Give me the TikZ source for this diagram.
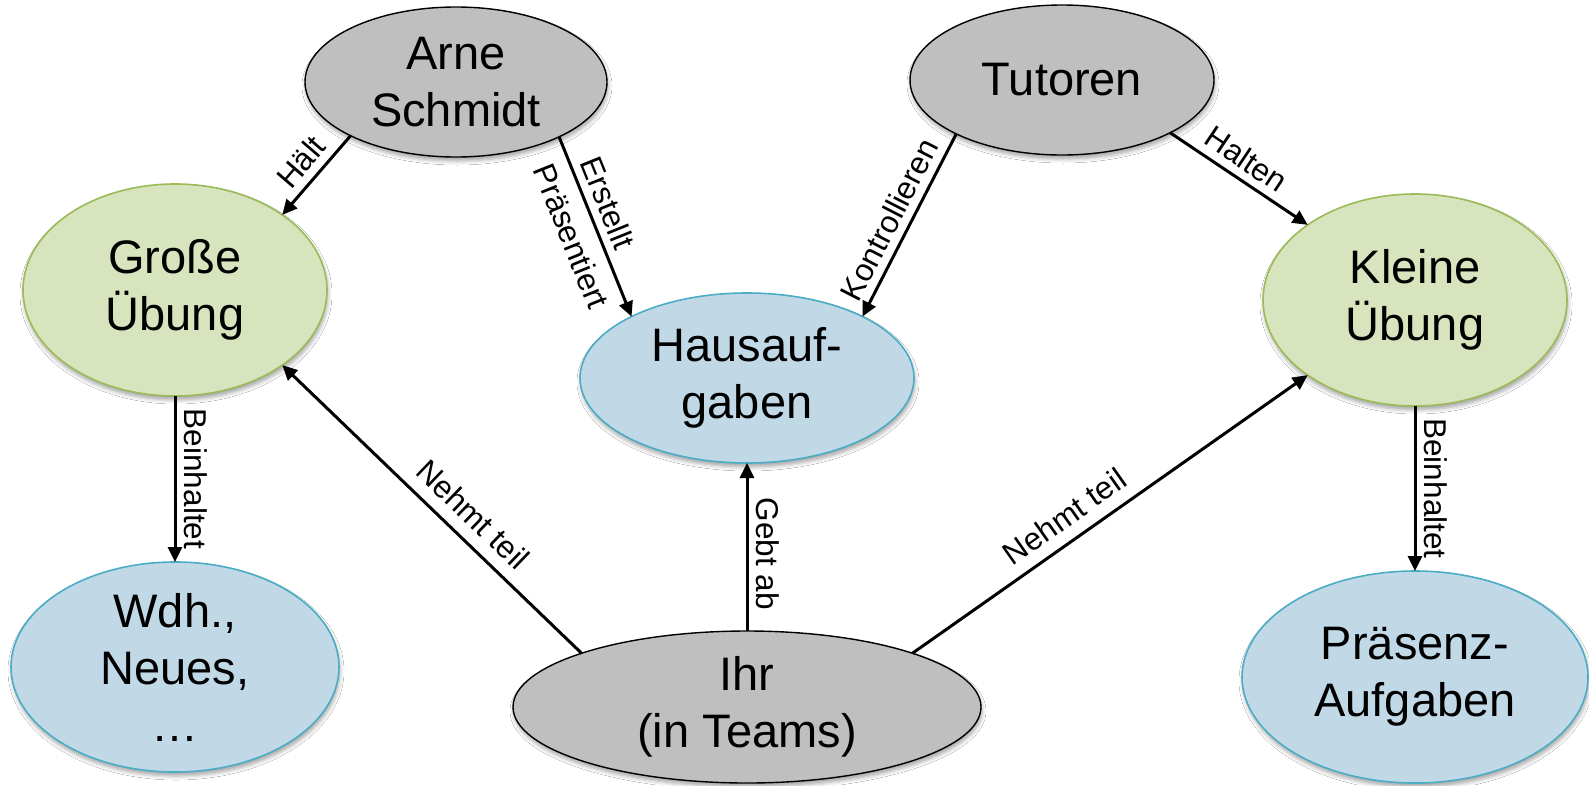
\documentclass[tikz,border=0pt]{standalone}
\usepackage{fontspec}
\setmainfont{Liberation Sans}
\usetikzlibrary{arrows.meta,shapes.geometric,shadows.blur}
\definecolor{nodegray}{RGB}{191,191,191}
\definecolor{greenfill}{RGB}{215,228,189}
\definecolor{greenline}{RGB}{155,187,89}
\definecolor{bluefill}{RGB}{193,217,231}
\definecolor{blueline}{RGB}{75,172,198}
\begin{document}
\begin{tikzpicture}[x=1pt,y=-1pt,
  base/.style={ellipse, inner sep=0pt, outer sep=0pt, align=center,
    font=\fontsize{47}{57}\selectfont,
    blur shadow={shadow xshift=1pt, shadow yshift=-4pt, shadow blur radius=4pt, shadow opacity=35}},
  graynode/.style={base, fill=nodegray, draw=black, line width=1.4pt},
  greennode/.style={base, fill=greenfill, draw=greenline, line width=1.6pt},
  bluenode/.style={base, fill=bluefill, draw=blueline, line width=1.6pt},
  conn/.style={line width=3pt, -{Triangle[length=15pt,width=14pt]}},
  lab/.style={font=\fontsize{31.5}{36}\selectfont, inner sep=1pt, outer sep=8pt},
]
\useasboundingbox[fill=white] (0,0) rectangle (1589,785);

\node[graynode, minimum width=302pt, minimum height=150pt] (arne) at (456,82) {Arne\\Schmidt};
\node[graynode, minimum width=304pt, minimum height=150pt] (tut) at (1062,80) {Tutoren};
\node[greennode, minimum width=304pt, minimum height=212pt] (gross) at (175,290) {Große\\Übung};
\node[bluenode, minimum width=334pt, minimum height=170pt] (haus) at (747,378) {Hausauf-\\gaben};
\node[greennode, minimum width=304pt, minimum height=212pt] (klein) at (1415,300) {Kleine\\Übung};
\node[bluenode, minimum width=328pt, minimum height=210pt] (wdh) at (175,667) {Wdh.,\\Neues,\\…};
\node[graynode, minimum width=468pt, minimum height=152pt] (ihr) at (747,707) {Ihr\\(in Teams)};
\node[bluenode, minimum width=346pt, minimum height=212pt] (praes) at (1415,677) {Präsenz-\\Aufgaben};

\draw[conn] (arne.207) -- node[lab, sloped, above, pos=0.5] {Hält} (gross.35);
\draw[conn] (arne.-28) -- node[lab, sloped, above, pos=0.41] {Erstellt}
  node[lab, sloped, below, pos=0.5, outer sep=13pt] {Präsentiert} (haus.152);
\draw[conn] (tut.207) -- node[lab, sloped, above, pos=0.52] {Kontrollieren} (haus.28);
\draw[conn] (tut.-26) -- node[lab, sloped, above, pos=0.47] {Halten} (klein.145);
\draw[conn] (ihr.162) -- node[lab, sloped, above, pos=0.42, outer sep=12pt] {Nehmt teil} (gross.-35);
\draw[conn] (ihr.18) -- node[lab, sloped, above, pos=0.42, outer sep=12pt] {Nehmt teil} (klein.215);
\draw[conn] (ihr.north) -- node[lab, rotate=-90, anchor=south, pos=0.46] {Gebt ab} (haus.south);
\draw[conn] (gross.south) -- node[lab, rotate=-90, anchor=south, pos=0.5] {Beinhaltet} (wdh.north);
\draw[conn] (klein.south) -- node[lab, rotate=-90, anchor=south, pos=0.5] {Beinhaltet} (praes.north);
\end{tikzpicture}
\end{document}
